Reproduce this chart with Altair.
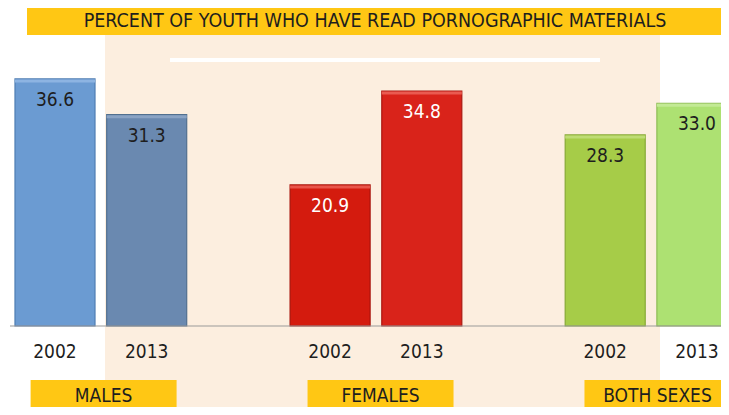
import altair as alt
import pandas as pd

title_text = "PERCENT OF YOUTH WHO HAVE READ PORNOGRAPHIC MATERIALS"
groups = ["MALES", "FEMALES", "BOTH SEXES"]
years = ["2002", "2013"]
values_2002 = [36.6, 20.9, 28.3]
values_2013 = [31.3, 34.8, 33.0]

bar_colors = {
    ("MALES", "2002"): "#6B9BD2",
    ("MALES", "2013"): "#6A89B0",
    ("FEMALES", "2002"): "#D41B0E",
    ("FEMALES", "2013"): "#D9231A",
    ("BOTH SEXES", "2002"): "#A6CC48",
    ("BOTH SEXES", "2013"): "#ADE172",
}
edge_colors = {
    ("MALES", "2002"): "#4F7DB3",
    ("MALES", "2013"): "#52708F",
    ("FEMALES", "2002"): "#A8130A",
    ("FEMALES", "2013"): "#AA1710",
    ("BOTH SEXES", "2002"): "#86A936",
    ("BOTH SEXES", "2013"): "#8DBB55",
}
top_colors = {
    ("MALES", "2002"): "#8DB4E2",
    ("MALES", "2013"): "#8AA3C4",
    ("FEMALES", "2002"): "#E8554A",
    ("FEMALES", "2013"): "#EA5A50",
    ("BOTH SEXES", "2002"): "#BEDC74",
    ("BOTH SEXES", "2013"): "#C3EA95",
}
label_colors = {"MALES": "#1E1E1E", "FEMALES": "#FFFFFF", "BOTH SEXES": "#1E1E1E"}

rows = []
for gi, g in enumerate(groups):
    for yi, (y, vals) in enumerate(zip(years, [values_2002, values_2013])):
        rows.append({
            "group": g, "gi": gi, "year": y, "yi": yi, "value": vals[gi],
            "label": f"{vals[gi]:.1f}",
            "fill": bar_colors[(g, y)], "edge": edge_colors[(g, y)],
            "top": top_colors[(g, y)],
            "tcolor": label_colors[g],
        })
bars_df = pd.DataFrame(rows)
groups_df = pd.DataFrame({"group": groups, "gi": list(range(len(groups)))})

FONT = "Liberation Sans Narrow, DejaVu Sans Condensed, Arial Narrow, sans-serif"
W, H = 713, 399
xs = alt.Scale(domain=[-0.5125, 7.2628], nice=False, zero=False)
ys = alt.Scale(domain=[-12.0, 47.111], nice=False, zero=False)

one = pd.DataFrame({"k": [0]})

bg = alt.Chart(one).mark_rect(color="#FCEEDF").encode(
    x=alt.value(97), x2=alt.value(652), y=alt.value(27), y2=alt.value(H)
)
white_line = alt.Chart(one).mark_rule(color="#FFFFFF", strokeWidth=4).encode(
    x=alt.value(162), x2=alt.value(592), y=alt.value(52)
)
title_bar = alt.Chart(one).mark_rect(color="#FFC714").encode(
    x=alt.value(19), x2=alt.value(W), y=alt.value(0), y2=alt.value(27)
)
title = alt.Chart(one).mark_text(
    text=title_text, font=FONT, fontSize=19.5, color="#1E1E1E", baseline="middle", align="center"
).encode(x=alt.value(367), y=alt.value(13))

bar_base = alt.Chart(bars_df).transform_calculate(
    slot="3*datum.gi + datum.yi",
    x0="3*datum.gi + datum.yi - 0.4363",
    x1="3*datum.gi + datum.yi + 0.4363",
    zero="0",
)
bars = bar_base.mark_bar(clip=True, strokeWidth=1.2).encode(
    x=alt.X("x0:Q", scale=xs, axis=None),
    x2="x1:Q",
    y=alt.Y("value:Q", scale=ys, axis=None),
    y2="zero:Q",
    fill=alt.Fill("fill:N", scale=None),
    stroke=alt.Stroke("edge:N", scale=None),
)
tops = bar_base.mark_rule(clip=True, strokeWidth=3, yOffset=2).encode(
    x=alt.X("x0:Q", scale=xs, axis=None),
    x2="x1:Q",
    y=alt.Y("value:Q", scale=ys, axis=None),
    color=alt.Color("top:N", scale=None),
)
vlabels = bar_base.mark_text(font=FONT, fontSize=19, baseline="middle", dy=21).encode(
    x=alt.X("slot:Q", scale=xs, axis=None),
    y=alt.Y("value:Q", scale=ys, axis=None),
    text="label:N",
    color=alt.Color("tcolor:N", scale=None),
)
baseline = alt.Chart(one).mark_rule(color="#9A9A9A", strokeWidth=1.2).encode(
    x=alt.value(2), x2=alt.value(W), y=alt.value(318)
)
ylabels = bar_base.mark_text(font=FONT, fontSize=19, color="#1E1E1E", baseline="middle").encode(
    x=alt.X("slot:Q", scale=xs, axis=None),
    y=alt.value(344),
    text="year:N",
)
g_base = alt.Chart(groups_df).transform_calculate(
    c="3*datum.gi + 0.53 + 0.02*datum.gi",
    b0="3*datum.gi + 0.53 + 0.02*datum.gi - 0.796",
    b1="3*datum.gi + 0.53 + 0.02*datum.gi + 0.796",
)
gboxes = g_base.mark_rect(color="#FFC714", clip=True).encode(
    x=alt.X("b0:Q", scale=xs, axis=None), x2="b1:Q",
    y=alt.value(372), y2=alt.value(H),
)
gtext = g_base.mark_text(font=FONT, fontSize=19, color="#1E1E1E", baseline="middle").encode(
    x=alt.X("c:Q", scale=xs, axis=None), y=alt.value(388), text="group:N"
)

chart = alt.layer(
    bg, white_line, title_bar, title, bars, tops, vlabels, baseline, ylabels, gboxes, gtext
).properties(
    width=W, height=H, padding=0, autosize=alt.AutoSizeParams(type="none"), background="#FFFFFF"
).configure_view(stroke=None)

chart.save("out.html", embed_options={"renderer": "svg", "actions": False})
